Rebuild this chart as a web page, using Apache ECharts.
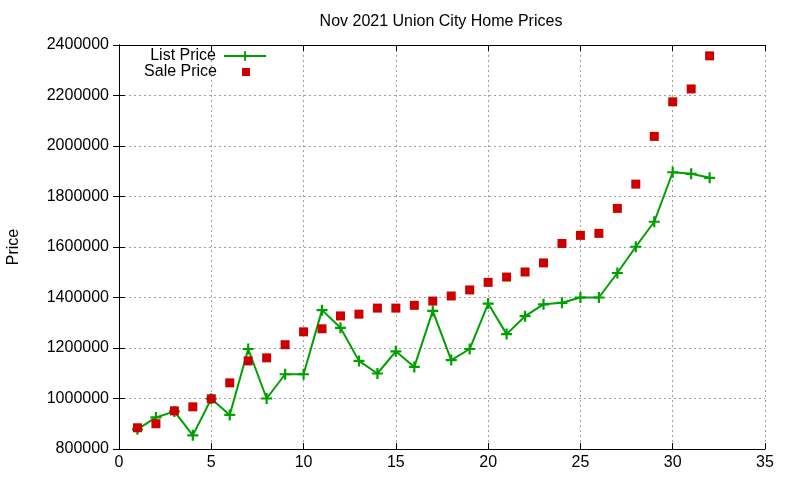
<!DOCTYPE html>
<html>
<head>
<meta charset="utf-8">
<script src="https://cdn.jsdelivr.net/npm/echarts@6/dist/echarts.min.js"></script>
<style>html,body{margin:0;padding:0;background:#fff}#c{width:800px;height:480px}</style>
</head>
<body>
<div id="c"></div>
<script>
var titleText = 'Nov 2021 Union City Home Prices';
var days = [1,2,3,4,5,6,7,8,9,10,11,12,13,14,15,16,17,18,19,20,21,22,23,24,25,26,27,28,29,30,31,32];
var listPrice = [878000, 925000, 949000, 854000, 999000, 935000, 1196000, 1000000, 1096000, 1096000,
  1350000, 1280000, 1149000, 1099000, 1187000, 1125000, 1347000, 1152000, 1196000, 1376000,
  1255000, 1326000, 1373000, 1379000, 1400000, 1400000, 1497000, 1601000, 1700000, 1896000,
  1890000, 1874000];
var salePrice = [884000, 900000, 951000, 967000, 999000, 1062000, 1149000, 1161000, 1213000, 1264000,
  1276000, 1327000, 1334000, 1358000, 1358000, 1369000, 1386000, 1406000, 1430000, 1460000,
  1481000, 1501000, 1537000, 1614000, 1646000, 1654000, 1753000, 1849000, 2038000, 2175000,
  2226000, 2357000];
var xMin = 0, xMax = 35, xStep = 5;
var yMin = 800000, yMax = 2400000, yStep = 200000;

var FONT = 'Liberation Sans, Arial, sans-serif';
var plus = 'path://M4,0H6V4H10V6H6V10H4V6H0V4H4Z';
var legendSquare = 'path://M0,4L42,4M17,0H25V8H17Z';
var chart = echarts.init(document.getElementById('c'), null, {renderer: 'canvas'});

function pair(xs, ys) { return xs.map(function (x, i) { return [x, ys[i]]; }); }

var gridLine = {show: true, lineStyle: {color: '#a0a0a0', type: [2, 3], width: 1}};
var axLine = {show: true, lineStyle: {color: '#000', width: 1}};
var tick = {show: true, inside: true, length: 6, lineStyle: {color: '#000'}};

chart.setOption({
  animation: false,
  backgroundColor: '#fff',
  textStyle: {fontFamily: FONT},
  title: {
    text: titleText, left: 441, top: 14, textAlign: 'center', padding: 0,
    textStyle: {fontFamily: FONT, fontSize: 16, fontWeight: 'normal', color: '#000'}
  },
  legend: [{
    data: ['List Price'], right: 533, top: 48, padding: 0, align: 'right',
    itemWidth: 42, itemHeight: 12,
    textStyle: {fontFamily: FONT, fontSize: 16, color: '#000', padding: [0, 3, 0, 0]}
  }, {
    data: [{name: 'Sale Price', icon: legendSquare}], right: 533, top: 64, padding: 0, align: 'right',
    itemWidth: 42, itemHeight: 8, symbolKeepAspect: false,
    textStyle: {fontFamily: FONT, fontSize: 16, color: '#000', padding: [0, 3, 0, 0]}
  }],
  grid: {left: 119, right: 35, top: 45, bottom: 31, containLabel: false, outerBoundsMode: 'none'},
  xAxis: [{
    type: 'value', min: xMin, max: xMax, interval: xStep,
    axisLine: axLine, axisTick: tick, splitLine: gridLine,
    axisLabel: {fontFamily: FONT, fontSize: 16, color: '#000', margin: 6}
  }, {
    type: 'value', position: 'top', min: xMin, max: xMax, interval: xStep,
    axisLine: axLine, axisTick: tick, splitLine: {show: false}, axisLabel: {show: false}
  }],
  yAxis: [{
    type: 'value', min: yMin, max: yMax, interval: yStep,
    name: 'Price', nameLocation: 'middle', nameGap: 97, nameRotate: 90,
    nameTextStyle: {fontFamily: FONT, fontSize: 16, color: '#000'},
    axisLine: axLine, axisTick: tick, splitLine: gridLine,
    axisLabel: {fontFamily: FONT, fontSize: 16, color: '#000', margin: 10,
      formatter: function (v) { return String(v); }}
  }, {
    type: 'value', position: 'right', min: yMin, max: yMax, interval: yStep,
    axisLine: axLine, axisTick: tick, splitLine: {show: false}, axisLabel: {show: false}
  }],
  series: [{
    name: 'List Price', type: 'line', data: pair(days, listPrice),
    symbol: plus, symbolSize: 11, showSymbol: true,
    lineStyle: {color: '#00a000', width: 2},
    itemStyle: {color: '#00a000'},
    z: 2
  }, {
    name: 'Sale Price', type: 'scatter', data: pair(days, salePrice),
    symbol: 'rect', symbolSize: 9,
    itemStyle: {color: '#cc0000', opacity: 1},
    z: 3
  }]
});
</script>
</body>
</html>
